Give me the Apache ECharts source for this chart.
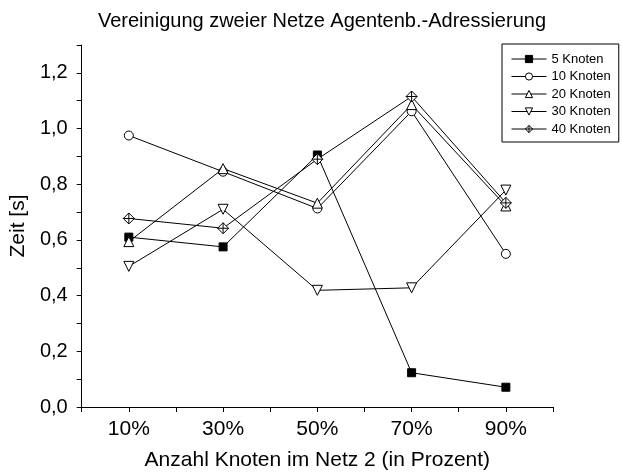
<!DOCTYPE html>
<html>
<head>
<meta charset="utf-8">
<script src="https://cdn.jsdelivr.net/npm/echarts@6/dist/echarts.min.js"></script>
<style>
  html, body { margin: 0; padding: 0; background: #fff; }
  #chart { width: 622px; height: 476px; }
</style>
</head>
<body>
<div id="chart"></div>
<script>
const percents = [10, 30, 50, 70, 90];
const knoten5 = [0.61, 0.575, 0.905, 0.123, 0.071];
const knoten10 = [0.975, 0.845, 0.713, 1.062, 0.55];
const knoten20 = [0.594, 0.856, 0.732, 1.086, 0.722];
const knoten30 = [0.505, 0.71, 0.419, 0.428, 0.779];
const knoten40 = [0.677, 0.642, 0.89, 1.115, 0.733];
const seriesNames = ['5 Knoten', '10 Knoten', '20 Knoten', '30 Knoten', '40 Knoten'];

const font = '"Liberation Sans", Arial, sans-serif';
const diamondCross = 'path://M0,-1L1,0L0,1L-1,0Z M0,-1L0,1 M-1,0L1,0';

function pairs(values) {
  return percents.map((p, i) => [p, values[i]]);
}

function makeSeries(name, values, symbol, size, filled, rotate) {
  return {
    name: name,
    type: 'line',
    data: pairs(values),
    symbol: symbol,
    symbolSize: size,
    symbolRotate: rotate || 0,
    showAllSymbol: true,
    lineStyle: { color: '#000', width: 1 },
    itemStyle: {
      color: filled ? '#000' : '#fff',
      borderColor: '#000',
      borderWidth: 1
    },
    emphasis: { disabled: true },
    animation: false
  };
}

function legendItem(name, filled) {
  return {
    name: name,
    itemStyle: {
      color: filled ? '#000' : '#fff',
      borderColor: '#000',
      borderWidth: 1
    },
    lineStyle: { color: '#000', width: 1 }
  };
}

const chart = echarts.init(document.getElementById('chart'));

const option = {
  backgroundColor: '#fff',
  textStyle: { fontFamily: font },
  title: {
    text: 'Vereinigung zweier Netze Agentenb.-Adressierung',
    left: 317,
    top: 6,
    textAlign: 'center',
    textStyle: { fontFamily: font, fontSize: 20, fontWeight: 'normal', color: '#000' }
  },
  legend: {
    left: 502,
    top: 44,
    orient: 'vertical',
    padding: [8, 8, 6, 9],
    itemWidth: 35,
    itemHeight: 9,
    itemGap: 3.5,
    borderColor: '#000',
    borderWidth: 1,
    lineStyle: { color: '#000', width: 1 },
    itemStyle: { borderColor: '#000', borderWidth: 1 },
    data: [
      legendItem(seriesNames[0], true),
      legendItem(seriesNames[1], false),
      legendItem(seriesNames[2], false),
      legendItem(seriesNames[3], false),
      legendItem(seriesNames[4], false)
    ],
    textStyle: { fontFamily: font, fontSize: 13, lineHeight: 14, color: '#000' }
  },
  grid: {
    left: 81,
    right: 69,
    top: 45,
    bottom: 67
  },
  xAxis: {
    type: 'value',
    min: 0,
    max: 100,
    interval: 10,
    name: 'Anzahl Knoten im Netz 2 (in Prozent)',
    nameLocation: 'middle',
    nameGap: 43,
    nameTextStyle: { fontFamily: font, fontSize: 21, color: '#000' },
    splitLine: { show: false },
    axisLine: { lineStyle: { color: '#000', width: 1 } },
    axisTick: { length: 5, lineStyle: { color: '#000' } },
    axisLabel: {
      fontFamily: font,
      fontSize: 21,
      color: '#000',
      margin: 12,
      formatter: v => (Math.round(v / 10) % 2 === 1 ? v + '%' : '')
    }
  },
  yAxis: {
    type: 'value',
    min: 0,
    max: 1.3,
    interval: 0.1,
    name: 'Zeit [s]',
    nameLocation: 'middle',
    nameGap: 50,
    nameTextStyle: { fontFamily: font, fontSize: 21, color: '#000' },
    splitLine: { show: false },
    axisLine: { show: true, lineStyle: { color: '#000', width: 1 } },
    axisTick: { show: true, length: 5, lineStyle: { color: '#000' } },
    axisLabel: {
      fontFamily: font,
      fontSize: 20,
      color: '#000',
      margin: 14,
      formatter: v => (Math.round(v * 10) % 2 === 0 ? v.toFixed(1).replace('.', ',') : '')
    }
  },
  series: [
    makeSeries(seriesNames[0], knoten5, 'rect', 8, true),
    makeSeries(seriesNames[1], knoten10, 'circle', 9, false),
    makeSeries(seriesNames[2], knoten20, 'triangle', 10, false),
    makeSeries(seriesNames[3], knoten30, 'triangle', 10, false, 180),
    makeSeries(seriesNames[4], knoten40, diamondCross, 11, false)
  ]
};

chart.setOption(option);
</script>
</body>
</html>
